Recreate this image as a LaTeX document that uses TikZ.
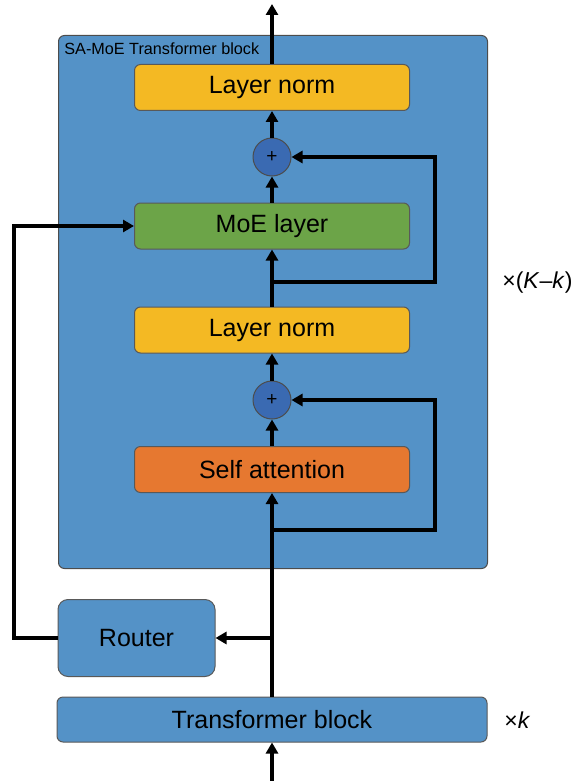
\documentclass[tikz,border=0pt]{standalone}
\usepackage{fontspec}
\setmainfont{Liberation Sans}
\usetikzlibrary{positioning,arrows.meta}

\definecolor{blockblue}{RGB}{84,146,199}
\definecolor{sumblue}{RGB}{58,106,178}
\definecolor{normyellow}{RGB}{244,185,35}
\definecolor{moegreen}{RGB}{108,164,72}
\definecolor{attnorange}{RGB}{230,120,48}

\begin{document}
\begin{tikzpicture}[x=0.5pt,y=-0.5pt,
    outerblock/.style={rectangle,rounded corners=3pt,draw=black!70,line width=0.5pt,fill=blockblue,inner sep=0pt},
    layerbox/.style={rectangle,rounded corners=3pt,draw=black!65,line width=0.5pt,inner sep=0pt,minimum width=137.5pt,minimum height=23pt,font=\fontsize{12.5}{14}\selectfont},
    sumnode/.style={circle,draw=black!70,line width=0.5pt,fill=sumblue,inner sep=0pt,minimum size=19pt,font=\fontsize{9.5}{10}\selectfont},
    flow/.style={line width=1.6pt,-{Triangle[length=5.5pt,width=6pt]}},
    factor/.style={anchor=west,inner sep=0pt,font=\fontsize{11.5}{13}\selectfont}
    ]

    \useasboundingbox (0,0) rectangle (573,781);

    \node (block) [outerblock,anchor=north west,minimum width=214.5pt,minimum height=266.5pt] at (58,35) {};
    \node [anchor=north west,inner sep=0pt,font=\fontsize{8.1}{9}\selectfont] at (64,42) {SA-MoE Transformer block};

    \node (normtop) [layerbox,fill=normyellow] at (272,87.5) {Layer norm};
    \node (sum1) [sumnode] at (272,157) {+};
    \node (moe) [layerbox,fill=moegreen] at (272,226) {MoE layer};
    \node (normlow) [layerbox,fill=normyellow] at (272,330) {Layer norm};
    \node (sum0) [sumnode] at (272,400) {+};
    \node (attention) [layerbox,fill=attnorange] at (272,469.5) {Self attention};

    \node (router) [layerbox,fill=blockblue,rounded corners=5pt,minimum width=78.5pt,minimum height=38.5pt] at (136.5,638) {Router};
    \node (transformer) [layerbox,fill=blockblue,minimum width=215pt,minimum height=22.5pt] at (272,719.5) {Transformer block};

    \node [factor] at (502,283) {×(\textit{K}–\textit{k})};
    \node [factor] at (504,720) {×\textit{k}};

    \coordinate (in) at (272,781);
    \coordinate (out) at (272,4);
    \coordinate (branch) at (272,638);
    \coordinate (split0) at (272,530);
    \coordinate (split1) at (272,282);
    \coordinate (skip0) at (435,400);
    \coordinate (skip1) at (435,157);
    \coordinate (gate) at (14,638);

    \draw[flow] (in) -- (transformer);
    \foreach \a/\b in {transformer/attention,attention/sum0,sum0/normlow,normlow/moe,moe/sum1,sum1/normtop}
      \draw[flow] (\a) -- (\b);
    \draw[flow] (normtop) -- (out);

    \draw[flow] (branch) -- (router);
    \draw[flow] (router.west) -- (gate) |- (moe.west);

    \draw[flow,line join=miter] (split0) -| (skip0) -- (sum0);
    \draw[flow,line join=miter] (split1) -| (skip1) -- (sum1);

  \end{tikzpicture}
\end{document}
